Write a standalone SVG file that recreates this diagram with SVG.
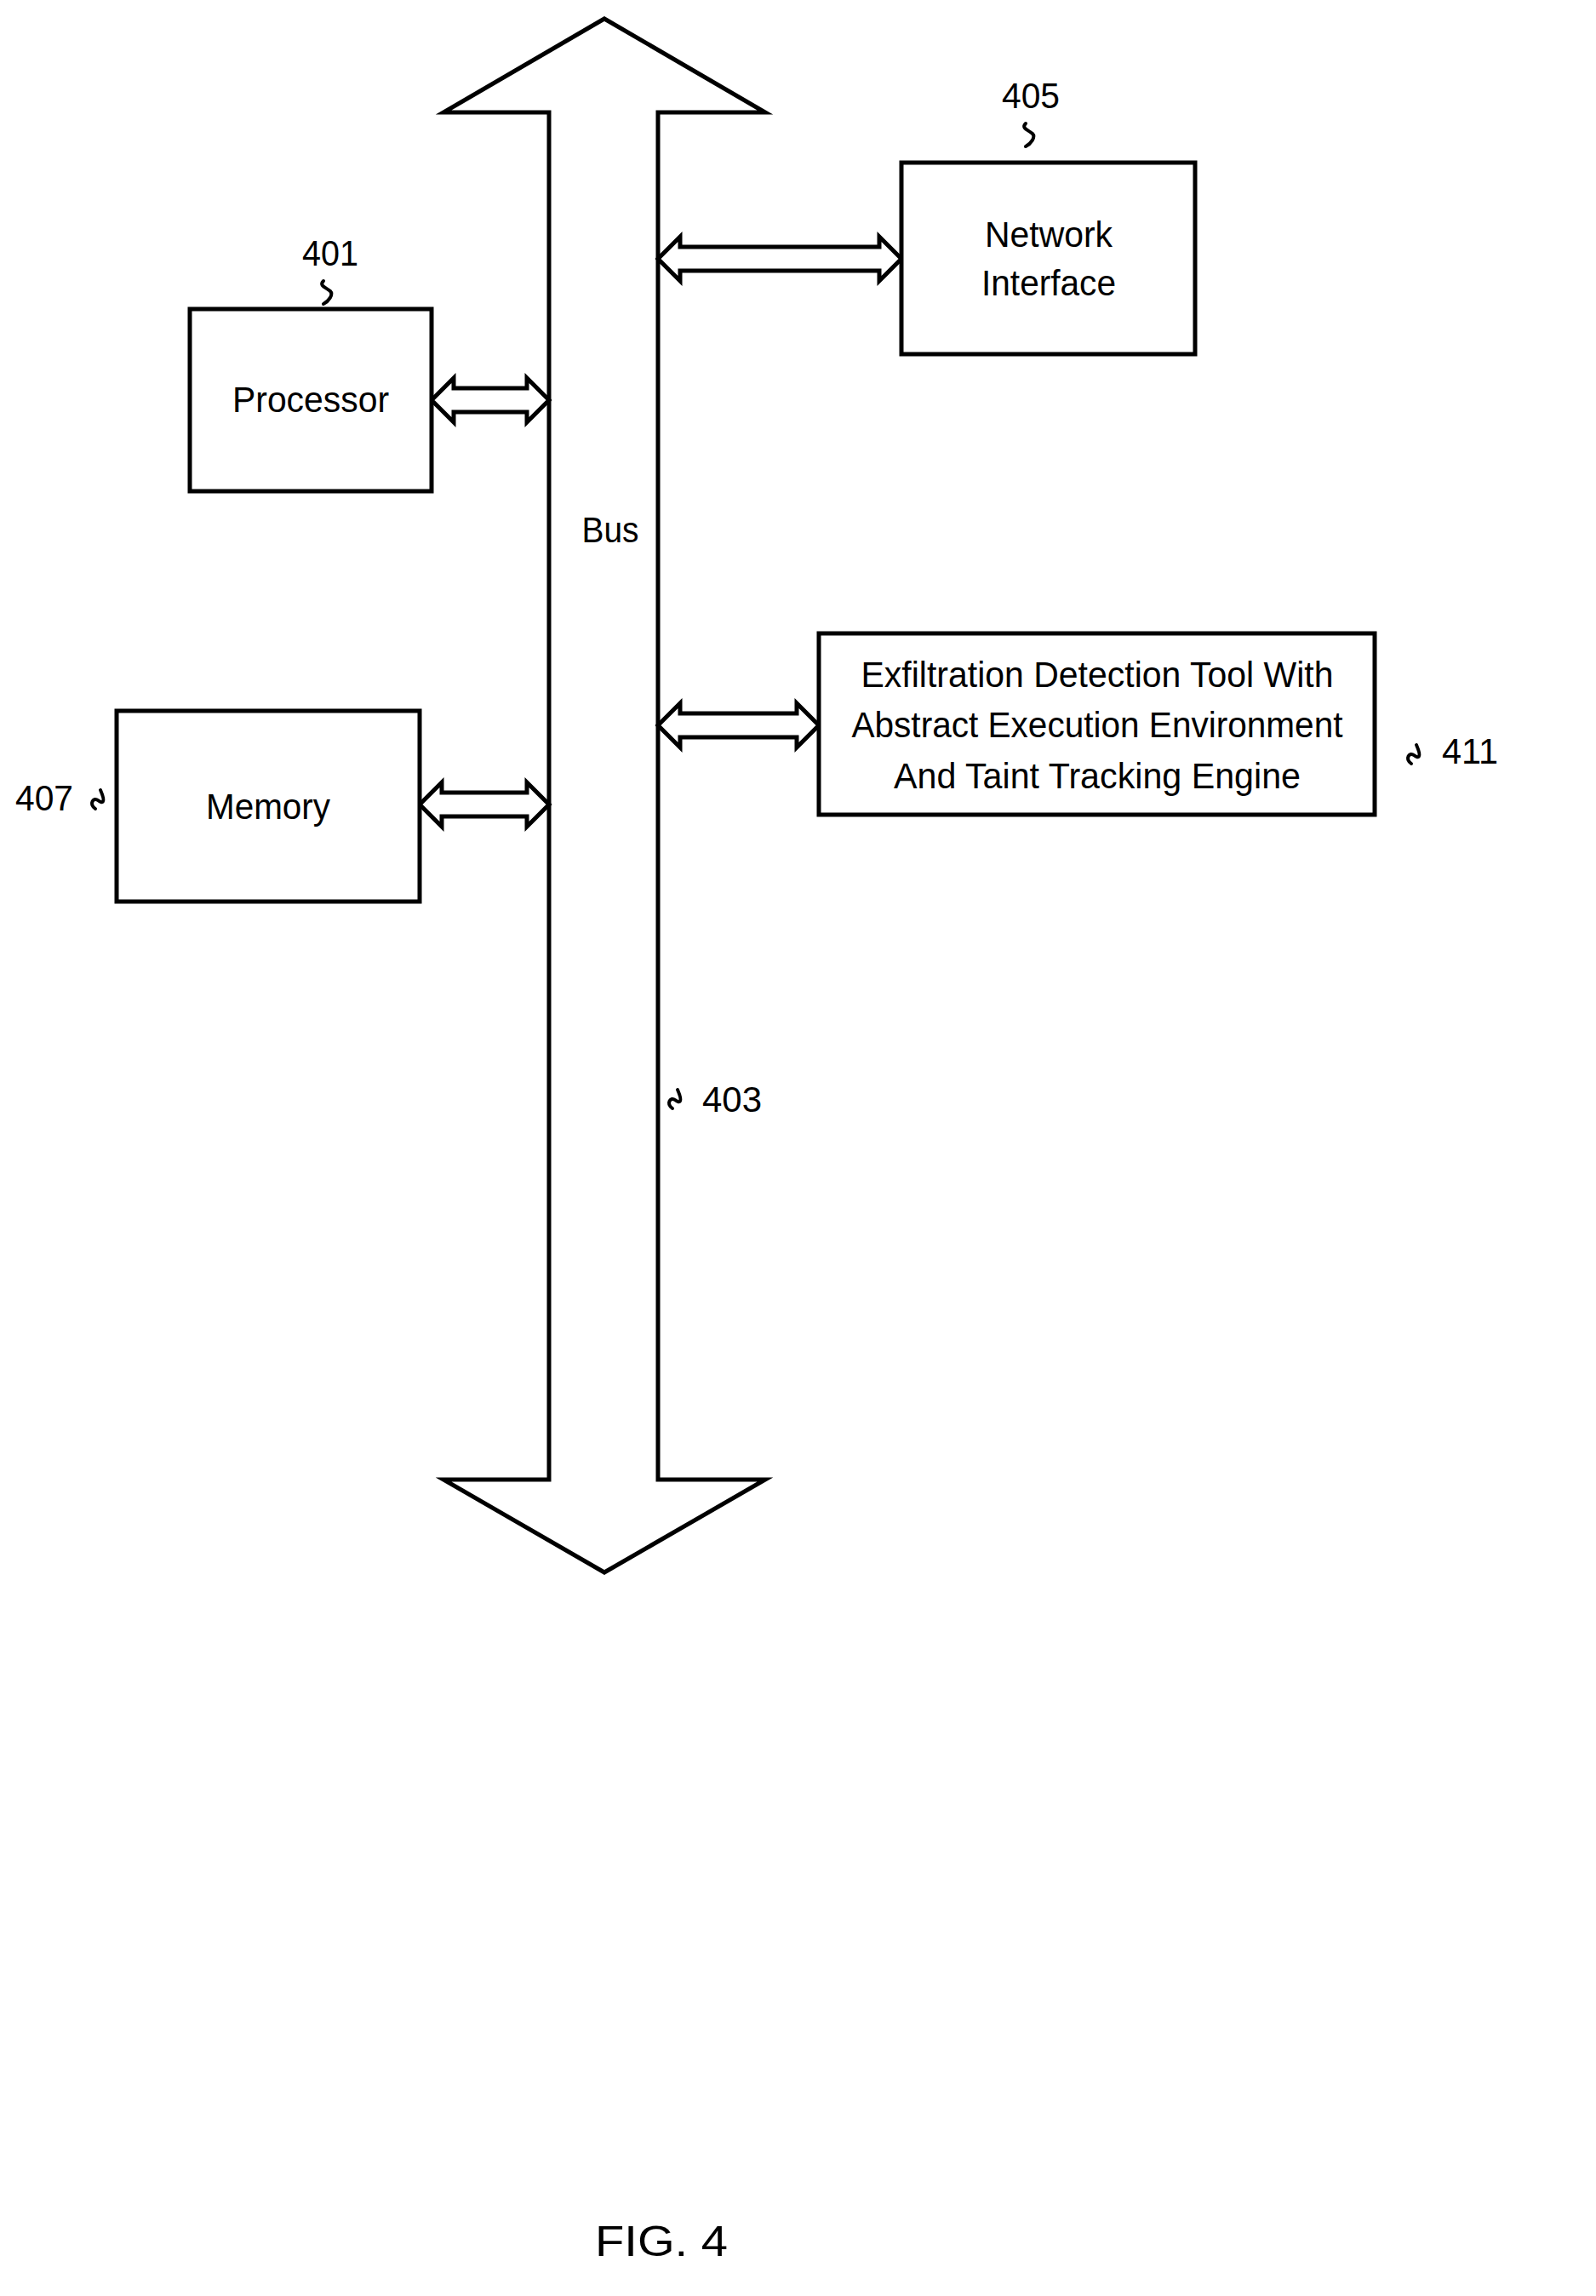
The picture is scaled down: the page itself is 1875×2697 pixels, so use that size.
<svg xmlns="http://www.w3.org/2000/svg" width="1875" height="2697" viewBox="0 0 1875 2697">
<style>
.s{fill:#fff;stroke:#000;stroke-width:5;stroke-linejoin:miter}
.q{fill:none;stroke:#000;stroke-width:4;stroke-linecap:round}
text{font-family:"Liberation Sans",Arial,sans-serif;font-size:42px;fill:#000;text-anchor:middle}
</style>
<rect width="1875" height="2697" fill="#fff"/>
<g id="bus">
<polygon class="s" points="710,22 899,132 773,132 773,1738 899,1738 710,1847 521,1738 645,1738 645,132 521,132"/>
<text x="717" y="637" textLength="67" lengthAdjust="spacingAndGlyphs">Bus</text>
<path class="q" d="M790,1302 c-8,-6 -2,-14 3,-10 s10,4 3,-12"/>
<text x="860" y="1306" textLength="70" lengthAdjust="spacingAndGlyphs">403</text>
</g>
<g id="connectors">
<polygon class="s" points="507,470 533,444 533,456 619,456 619,444 645,470 619,496 619,484 533,484 533,496"/>
<polygon class="s" points="493,945 519,919 519,931 619,931 619,919 645,945 619,971 619,959 519,959 519,971"/>
<polygon class="s" points="773,304 799,278 799,290 1033,290 1033,278 1059,304 1033,330 1033,318 799,318 799,330"/>
<polygon class="s" points="773,852 799,826 799,838 936,838 936,826 962,852 936,878 936,866 799,866 799,878"/>
</g>
<g id="processor">
<rect class="s" x="223" y="363" width="284" height="214"/>
<text x="365" y="484" textLength="184" lengthAdjust="spacingAndGlyphs">Processor</text>
<text x="388" y="312" textLength="66" lengthAdjust="spacingAndGlyphs">401</text>
<path class="q" d="M380,330 c-6,6 4,8 8,12 s-2,12 -8,15"/>
</g>
<g id="network">
<rect class="s" x="1059" y="191" width="345" height="225"/>
<text x="1232" y="290" textLength="150" lengthAdjust="spacingAndGlyphs">Network</text>
<text x="1232" y="347" textLength="158" lengthAdjust="spacingAndGlyphs">Interface</text>
<text x="1211" y="127" textLength="68" lengthAdjust="spacingAndGlyphs">405</text>
<path class="q" d="M1205,145 c-6,6 4,8 8,12 s-2,12 -8,15"/>
</g>
<g id="memory">
<rect class="s" x="137" y="835" width="356" height="224"/>
<text x="315" y="962" textLength="146" lengthAdjust="spacingAndGlyphs">Memory</text>
<text x="52" y="952" textLength="68" lengthAdjust="spacingAndGlyphs">407</text>
<path class="q" d="M112,950 c-8,-6 -2,-14 3,-10 s10,4 3,-12"/>
</g>
<g id="exfil">
<rect class="s" x="962" y="744" width="653" height="213"/>
<text x="1289" y="807" textLength="555" lengthAdjust="spacingAndGlyphs">Exfiltration Detection Tool With</text>
<text x="1289" y="866" textLength="577" lengthAdjust="spacingAndGlyphs">Abstract Execution Environment</text>
<text x="1289" y="926" textLength="478" lengthAdjust="spacingAndGlyphs">And Taint Tracking Engine</text>
<path class="q" d="M1658,897 c-8,-6 -2,-14 3,-10 s10,4 3,-12"/>
<text x="1727" y="897" textLength="66" lengthAdjust="spacingAndGlyphs">411</text>
</g>
<text x="777" y="2650" style="font-size:50px" textLength="156" lengthAdjust="spacingAndGlyphs">FIG. 4</text>
</svg>
